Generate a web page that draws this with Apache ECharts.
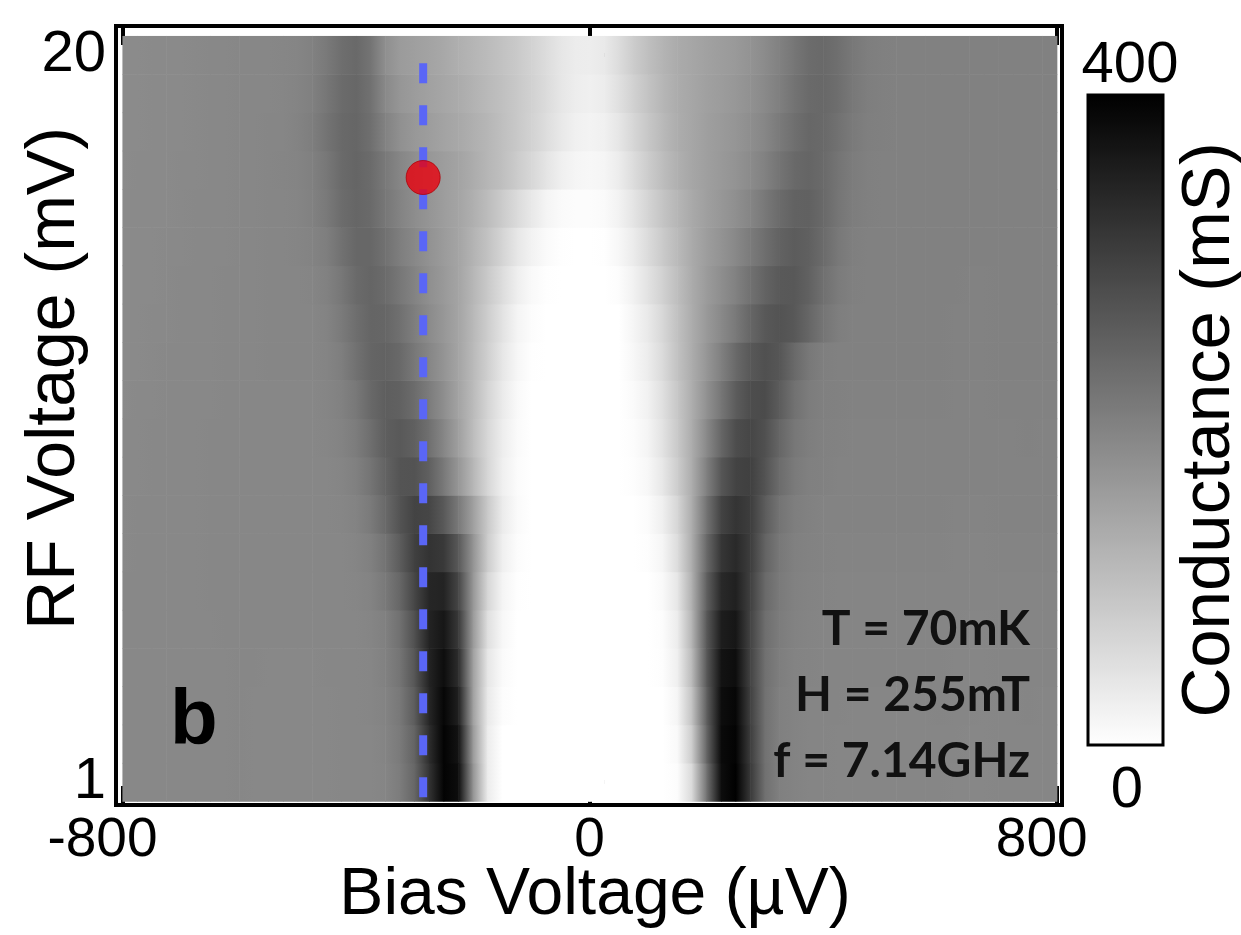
<!DOCTYPE html>
<html>
<head>
<meta charset="utf-8">
<script src="https://cdn.jsdelivr.net/npm/echarts@6/dist/echarts.min.js"></script>
<style>
  html, body { margin: 0; padding: 0; background: #ffffff; }
  #chart { width: 1241px; height: 935px; }
</style>
</head>
<body>
<div id="chart"></div>
<script>
// Bias voltage column centres (µV)
const biasVoltage = [
  -800, -775, -750, -725, -700, -675, -650, -625, -600, -575, -550,
  -525, -500, -475, -450, -425, -400, -375, -350, -325, -300, -275, -250, -225, -200, -175, -150,
  -125, -100, -75, -50, -25, 0, 25, 50, 75, 100, 125,
  150, 175, 200, 225, 250, 275, 300, 325, 350, 375, 400, 425, 450, 475, 500, 525,
  550, 575, 600, 625, 650, 675, 700, 725, 750, 775, 800
];

// RF drive amplitude of each row (mV)
const rfVoltage = [1, 2, 3, 4, 5, 6, 7, 8, 9, 10, 11, 12, 13, 14, 15, 16, 17, 18, 19, 20];

// Differential conductance (mS); one row per RF voltage, one entry per bias column
const conductance = [
  /* 1 mV */ [186,186,187,187,187,186,187,187,188,187,187, 187,187,187,187,188,188, 189,192,205,240,320,395,380,170,30,0, 0,0,0,0,0,0,0,0,0,0,0, 5,60,220,380,400,310,225,200,194,192,191,190,190,190,190,190, 190,190,190,189,189,189,190,190,190,190,190],
  /* 2 mV */ [186,186,187,187,187,186,187,187,188,187,187, 187,187,187,187,188,188, 189,193,208,245,330,395,370,160,30,0, 0,0,0,0,0,0,0,0,0,0,0, 10,80,240,385,395,305,222,200,194,192,191,190,190,190,190,190, 190,190,190,190,189,189,190,190,190,190,190],
  /* 3 mV */ [186,186,187,187,187,187,187,187,188,187,187, 187,187,187,187,188,189, 190,195,212,255,340,390,350,150,35,5, 0,0,0,0,0,0,0,0,0,0,0, 15,95,250,380,390,300,222,200,195,192,191,191,190,190,190,190, 190,190,191,190,190,189,190,190,191,190,190],
  /* 4 mV */ [186,186,187,187,187,187,187,187,188,188,187, 187,187,187,188,188,189, 190,197,218,265,345,380,330,150,40,8, 0,0,0,0,0,0,0,0,0,0,3, 25,110,260,370,380,295,225,202,195,193,192,191,191,191,191,191, 191,191,191,190,190,190,191,191,191,191,191],
  /* 5 mV */ [186,186,187,187,187,187,187,188,188,188,188, 188,188,188,188,188,189, 192,200,225,275,345,365,310,160,50,12, 0,0,0,0,0,0,0,0,0,0,5, 30,120,260,355,365,295,228,205,196,193,192,192,191,191,191,191, 191,191,191,191,190,190,191,191,192,191,191],
  /* 6 mV */ [186,186,187,187,187,187,188,188,188,188,188, 188,188,188,188,189,190, 195,210,240,290,340,345,290,165,65,18, 2,0,0,0,0,0,0,0,0,0,10, 40,125,250,335,350,300,235,208,198,194,193,192,192,192,192,192, 192,192,192,191,191,191,192,192,192,192,192],
  /* 7 mV */ [185,186,186,187,187,187,188,188,188,188,188, 188,188,188,188,189,192, 200,220,255,300,320,310,260,170,80,25, 5,0,0,0,0,0,0,0,0,3,15, 55,130,235,315,335,305,245,212,200,196,194,193,193,193,193,193, 193,193,193,192,192,192,193,193,193,193,193],
  /* 8 mV */ [185,186,186,187,187,187,188,188,188,189,189, 189,189,189,189,190,195, 208,235,270,295,290,260,210,150,85,32, 8,0,0,0,0,0,0,0,0,6,25, 65,130,220,295,318,305,255,218,203,197,195,194,194,194,194,194, 194,194,194,193,193,193,194,194,194,194,194],
  /* 9 mV */ [185,185,186,186,187,187,188,188,188,189,189, 189,189,189,189,192,200, 218,245,268,270,250,210,165,115,65,25, 6,0,0,0,0,0,0,0,3,12,38, 78,130,200,265,295,300,270,230,208,200,197,195,195,195,195,195, 195,195,195,194,194,194,195,195,195,195,195],
  /* 10 mV */ [185,185,186,186,187,187,188,188,189,189,189, 189,189,189,190,194,205, 228,252,260,250,225,190,150,105,62,28, 8,0,0,0,0,0,0,0,5,18,45, 85,130,185,240,280,290,275,240,213,202,198,196,195,195,195,195, 195,195,195,195,194,194,195,195,196,195,195],
  /* 11 mV */ [184,185,185,186,186,187,187,188,189,189,189, 189,189,189,191,197,212, 237,252,248,230,205,178,145,108,68,33, 10,0,0,0,0,0,0,0,8,22,50, 88,128,172,215,255,280,282,255,222,205,199,197,196,196,196,196, 196,196,196,195,195,195,196,196,196,196,196],
  /* 12 mV */ [184,184,185,186,186,187,187,188,189,189,190, 190,190,190,193,202,222, 242,246,235,212,190,168,142,110,75,40, 14,2,0,0,0,0,0,0,12,30,58, 95,130,165,200,235,262,275,265,235,212,201,198,197,197,197,197, 197,197,197,196,196,196,197,197,197,197,197],
  /* 13 mV */ [184,184,185,185,186,186,187,188,188,189,190, 190,190,190,195,208,228, 242,240,225,203,182,163,143,112,78,45, 17,4,0,0,0,0,0,0,15,35,62, 98,130,160,185,210,240,262,270,262,240,216,203,198,197,197,197, 197,197,197,196,196,196,197,197,197,197,197],
  /* 14 mV */ [183,184,184,185,186,186,187,188,188,189,190, 190,190,192,198,214,234, 241,232,214,194,176,160,142,115,85,55, 27,10,2,0,0,0,0,5,22,45,72, 102,132,157,178,198,222,245,260,262,248,225,207,199,197,197,197, 197,197,197,197,196,196,197,197,197,197,197],
  /* 15 mV */ [183,183,184,185,185,186,187,187,188,189,190, 190,191,194,203,222,238, 238,222,203,186,171,157,142,120,95,68, 40,20,8,2,0,0,2,12,32,57,83, 108,133,153,170,187,207,228,246,255,250,232,212,201,198,198,198, 198,198,198,197,197,197,198,198,198,198,198],
  /* 16 mV */ [183,183,184,184,185,186,186,187,188,189,190, 190,192,197,210,230,240, 233,213,194,179,166,154,142,125,105,82, 58,36,18,8,4,4,8,20,42,67,92, 114,135,150,163,175,192,212,232,247,248,236,217,204,199,198,198, 198,198,198,198,197,197,198,198,198,198,198],
  /* 17 mV */ [182,183,183,184,185,185,186,187,188,189,190, 191,193,199,214,233,241, 232,210,190,175,163,153,144,130,115,100, 82,62,42,25,15,12,15,30,55,80,104, 124,140,150,160,170,182,198,218,236,242,234,218,206,200,198,198, 198,198,198,198,198,197,198,198,198,198,198],
  /* 18 mV */ [182,182,183,184,184,185,186,187,188,189,190, 190,194,202,220,236,240, 226,196,174,162,153,145,137,126,114,101, 87,71,53,36,24,19,24,40,65,88,110, 128,140,150,158,166,177,190,208,226,238,236,223,209,201,199,198, 198,198,198,198,198,198,198,198,198,198,198],
  /* 19 mV */ [182,182,183,183,184,185,186,187,188,189,189, 190,193,200,215,232,238, 222,185,164,155,148,140,131,121,110,99, 87,72,56,40,29,24,30,48,72,94,114, 130,140,149,156,163,173,185,201,219,233,237,227,212,203,199,198, 198,198,198,198,198,198,198,198,198,198,198],
  /* 20 mV */ [182,182,183,183,184,185,186,187,188,189,189, 190,192,197,210,228,236, 218,175,157,150,144,136,126,116,106,96, 85,70,55,40,30,28,35,55,80,100,118, 132,140,148,154,160,170,182,197,215,230,236,226,212,203,199,197, 198,198,198,198,198,198,198,198,198,198,198]
];

// Tick values
const biasTicks = [-800, 0, 800];
const rfTicks = [1, 20];
const colorRange = [0, 400];

// Line cut at fixed bias and the marked working point
const cutBias = -285;
const cutRf = [0.6, 20.25];
const markedPoint = [-285, 16.8];

// Each cell spans from one bias column centre to the next; the fill is shaded
// between the two measured values so the map reads smoothly along bias.
const cells = [];
rfVoltage.forEach((rf, r) => {
  for (let c = 0; c < biasVoltage.length - 1; c++) {
    cells.push([biasVoltage[c], rf, conductance[r][c], biasVoltage[c + 1], conductance[r][c + 1]]);
  }
});

// Linear white -> black grey scale over the colour range
function shade(v) {
  const t = Math.max(0, Math.min(1, (v - colorRange[0]) / (colorRange[1] - colorRange[0])));
  const g = Math.round(255 * (1 - t));
  return 'rgb(' + g + ',' + g + ',' + g + ')';
}

const ARIAL = '"Liberation Sans", Arial, sans-serif';
const xTickFont = { fontFamily: ARIAL, fontSize: 55, color: '#000' };
const yTickFont = { fontFamily: ARIAL, fontSize: 58, color: '#000' };
const titleFont = { fontFamily: ARIAL, fontSize: 66, color: '#000' };

const tickStyle = { show: true, inside: true, length: 19, lineStyle: { color: '#000', width: 4 } };

const chart = echarts.init(document.getElementById('chart'), null, { renderer: 'canvas' });

chart.setOption({
  animation: false,
  backgroundColor: '#ffffff',
  grid: {
    left: 116, top: 26, width: 946, height: 779,
    outerBoundsMode: 'none', containLabel: false,
    show: true, borderColor: '#000', borderWidth: 4, backgroundColor: 'transparent'
  },
  xAxis: [
    {
      type: 'value', position: 'bottom', min: -811, max: 809,
      axisLine: { show: false }, splitLine: { show: false },
      axisTick: Object.assign({ customValues: biasTicks }, tickStyle),
      axisLabel: {
        customValues: biasTicks, margin: 8,
        formatter: v => v === -800 ? '{l|' + v + '}' : (v === 800 ? '{r|' + v + '}' : '{c|' + v + '}'),
        rich: {
          l: Object.assign({ padding: [0, 40, 0, 0] }, xTickFont),
          r: Object.assign({ padding: [0, 30, 0, 0] }, xTickFont),
          c: Object.assign({}, xTickFont)
        }
      },
      name: 'Bias Voltage (µV)', nameLocation: 'middle', nameGap: 58, nameMoveOverlap: false,
      nameTextStyle: Object.assign({ padding: [0, 0, 0, 12] }, titleFont)
    },
    {
      type: 'value', position: 'top', min: -811, max: 809,
      axisLine: { show: false }, splitLine: { show: false },
      axisTick: Object.assign({ customValues: biasTicks }, tickStyle),
      axisLabel: { show: false }
    }
  ],
  yAxis: [
    {
      type: 'value', position: 'left', min: 0.4, max: 20.76,
      axisLine: { show: false }, splitLine: { show: false },
      axisTick: Object.assign({ customValues: rfTicks }, tickStyle),
      axisLabel: Object.assign({ customValues: rfTicks, margin: 10, padding: [8, 0, 0, 0] }, yTickFont),
      name: 'RF Voltage (mV)', nameLocation: 'middle', nameGap: 27, nameMoveOverlap: false,
      nameTextStyle: Object.assign({ padding: [0, 0, 0, 74] }, titleFont, { fontSize: 68 })
    },
    {
      type: 'value', position: 'right', min: 0.4, max: 20.76,
      axisLine: { show: false }, splitLine: { show: false },
      axisTick: Object.assign({ customValues: rfTicks }, tickStyle),
      axisLabel: { show: false }
    }
  ],
  visualMap: {
    type: 'continuous', min: colorRange[0], max: colorRange[1],
    seriesIndex: 0, dimension: 2, calculable: false, hoverLink: false,
    orient: 'vertical', left: 1088, top: 95, itemWidth: 75, itemHeight: 650,
    padding: 0, text: null,
    inRange: { color: ['#ffffff', '#000000'] }
  },
  graphic: [
    { type: 'rect', shape: { x: 1088, y: 95, width: 75, height: 650 },
      style: { fill: 'none', stroke: '#000', lineWidth: 3 }, z: 100 },
    { type: 'text', x: 1130, y: 66, style: { text: String(colorRange[1]), font: '58px ' + ARIAL, fill: '#000', textAlign: 'center', textVerticalAlign: 'middle' } },
    { type: 'text', x: 1127, y: 791, style: { text: String(colorRange[0]), font: '58px ' + ARIAL, fill: '#000', textAlign: 'center', textVerticalAlign: 'middle' } },
    { type: 'text', x: 1210, y: 430, rotation: Math.PI / 2,
      style: { text: 'Conductance (mS)', font: '69px ' + ARIAL, fill: '#000', textAlign: 'center', textVerticalAlign: 'middle' } },
    { type: 'text', x: 170, y: 722, z: 50,
      style: { text: 'b', font: 'bold 78px ' + ARIAL, fill: '#000', textAlign: 'left', textVerticalAlign: 'middle' } },
    { type: 'text', x: 1030, y: 630, z: 50,
      style: { text: 'T = 70mK', font: 'bold 48px Lato, "Open Sans", sans-serif', fill: '#111', textAlign: 'right', textVerticalAlign: 'middle' } },
    { type: 'text', x: 1030, y: 696, z: 50,
      style: { text: 'H = 255mT', font: 'bold 48px Lato, "Open Sans", sans-serif', fill: '#111', textAlign: 'right', textVerticalAlign: 'middle' } },
    { type: 'text', x: 1030, y: 762, z: 50,
      style: { text: 'f = 7.14GHz', font: 'bold 48px Lato, "Open Sans", sans-serif', fill: '#111', textAlign: 'right', textVerticalAlign: 'middle' } }
  ],
  series: [
    {
      type: 'custom', xAxisIndex: 0, yAxisIndex: 0, clip: true,
      data: cells,
      encode: { x: [0, 3], y: 1 },
      renderItem: function (params, api) {
        const b0 = api.value(0), rf = api.value(1), b1 = api.value(3);
        const p0 = api.coord([b0, rf + 0.5]);
        const p1 = api.coord([b1, rf - 0.5]);
        return {
          type: 'rect',
          shape: { x: p0[0], y: p0[1], width: p1[0] - p0[0] + 0.6, height: p1[1] - p0[1] + 0.6 },
          style: {
            fill: {
              type: 'linear', x: 0, y: 0, x2: 1, y2: 0, global: false,
              colorStops: [
                { offset: 0, color: shade(api.value(2)) },
                { offset: 1, color: shade(api.value(4)) }
              ]
            }
          }
        };
      }
    },
    {
      type: 'line', xAxisIndex: 0, yAxisIndex: 0, symbol: 'none', z: 5,
      data: [[cutBias, cutRf[0]], [cutBias, cutRf[1]]],
      lineStyle: { color: '#5a66f6', width: 8, type: [20, 22], cap: 'butt' }
    },
    {
      type: 'scatter', xAxisIndex: 0, yAxisIndex: 0, z: 6,
      data: [markedPoint], symbol: 'circle', symbolSize: 34,
      itemStyle: { color: '#e8000c', borderColor: '#b00008', borderWidth: 1 }
    }
  ]
});
</script>
</body>
</html>
